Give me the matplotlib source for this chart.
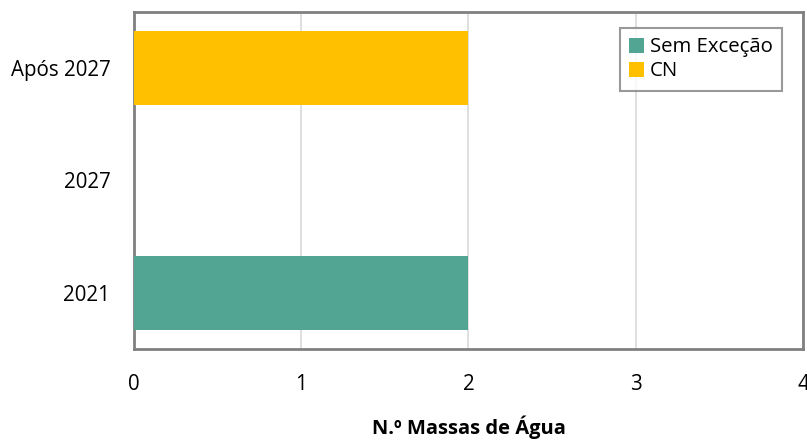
import matplotlib.pyplot as plt

anos = ["2021", "2027", "Após 2027"]
sem_excecao = [2, 0, 0]
cn = [0, 0, 2]

plt.rcParams['font.family'] = ['Open Sans', 'DejaVu Sans']

fig = plt.figure(figsize=(8.07, 4.40), dpi=100)
ax = fig.add_axes([0.166, 0.207, 0.829, 0.766])

ax.barh(anos, sem_excecao, height=0.66, color='#52A593', label='Sem Exceção', zorder=3)
ax.barh(anos, cn, left=sem_excecao, height=0.66, color='#FFC000', label='CN', zorder=3)

ax.set_xlim(0, 4)
ax.set_ylim(-0.5, 2.5)
ax.set_xticks([0, 1, 2, 3, 4])
ax.grid(axis='x', color='#D9D9D9', linewidth=1.2, zorder=0)
ax.tick_params(length=0, labelsize=14.8)
ax.tick_params(axis='y', pad=17)
ax.tick_params(axis='x', pad=18)
for s in ax.spines.values():
    s.set_color('#808080')
    s.set_linewidth(2)

ax.set_xlabel('N.º Massas de Água', fontsize=14.5, fontweight='bold')
ax.xaxis.set_label_coords(0.5, -0.197)

leg = ax.legend(loc='upper right', bbox_to_anchor=(0.969, 0.952), fontsize=14.7,
                frameon=True, fancybox=False, edgecolor='#808080',
                handlelength=0.75, handleheight=0.75, handletextpad=0.3,
                borderpad=0.45, labelspacing=0.2, borderaxespad=0)
leg.get_frame().set_linewidth(1.5)

fig.savefig('out.png', dpi=100)
